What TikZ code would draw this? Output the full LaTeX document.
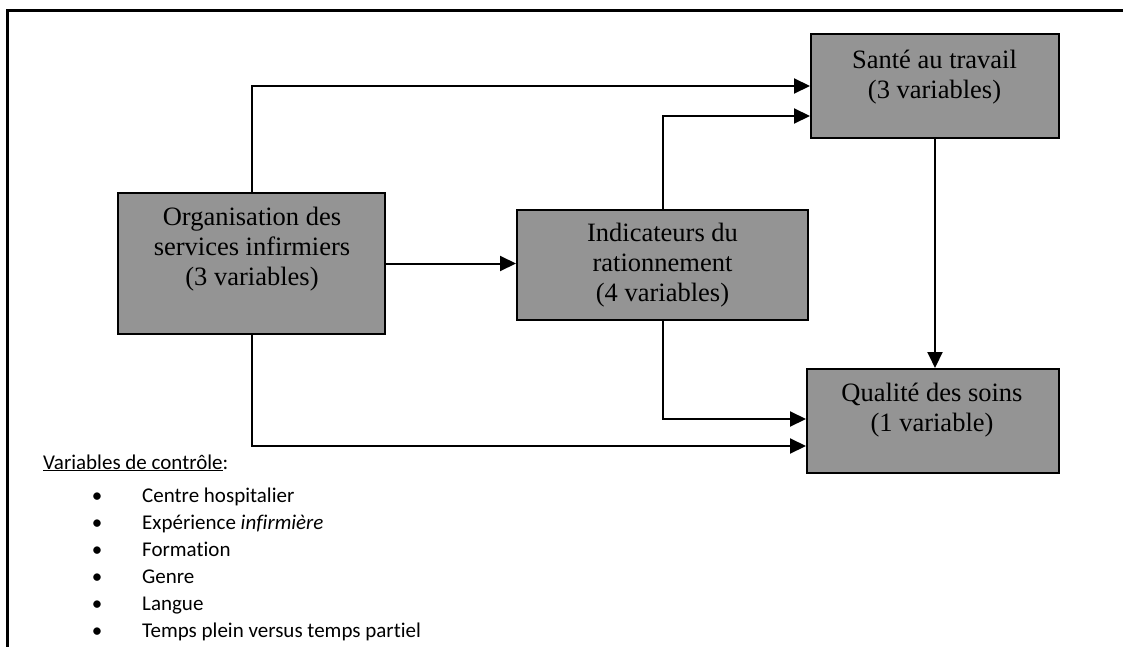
\documentclass[tikz,border=0pt]{standalone}
\usepackage{fontspec}
\setmainfont{Liberation Serif}
\newfontfamily\calibrifont[Ligatures=NoCommon]{Carlito}
\usetikzlibrary{arrows.meta,calc}
\tikzset{
  boxnode/.style={draw=black, line width=2pt, fill=black!42, inner sep=0pt, anchor=center},
  boxtext/.style={align=center, inner sep=0pt, font=\fontsize{26.5}{30}\selectfont},
  arr/.style={line width=2pt, -{Triangle[length=16pt,width=15pt]}},
  ctl/.style={inner sep=0pt, font=\calibrifont\fontsize{21}{25}\selectfont},
}
\begin{document}
\begin{tikzpicture}[x=1pt,y=-1pt]
\useasboundingbox (0,0) rectangle (1123,647);
% frame
\draw[line width=3pt] (7,647) -- (7,11) -- (1123,11);
% boxes
\node[boxnode, minimum width=267pt, minimum height=141pt] (org) at (251.5,263.5) {};
\node[boxnode, minimum width=291pt, minimum height=110pt] (ind) at (662.5,265) {};
\node[boxnode, minimum width=248pt, minimum height=104pt] (sante) at (935,86) {};
\node[boxnode, minimum width=252pt, minimum height=104pt] (qual) at (933,421) {};
% texts
\node[boxtext] (orgt) at (252,249) {Organisation des\\services infirmiers\\(3 variables)};
\node[boxtext] (indt) at (662.5,265.5) {Indicateurs du\\rationnement\\(4 variables)};
\node[boxtext] (santet) at (934.5,77) {Santé au travail\\(3 variables)};
\node[boxtext] (qualt) at (932,410) {Qualité des soins\\(1 variable)};
% connectors
\draw[arr] (org.north) |- (sante.west);
\draw[arr] (ind.north) |- ([yshift=-30pt]sante.west);
\draw[arr] (org.east) -- (org.east -| ind.west);
\draw[arr] (ind.south) |- ([yshift=2pt]qual.west);
\draw[arr] (org.south) |- ([yshift=-25pt]qual.west);
\draw[arr] (sante.south) -- (sante.south |- qual.north);
% control variables
\node[ctl, anchor=base west] (ctltitle) at (43,469) {\underline{Variables de contrôle}:};
\foreach \i/\t in {0/Centre hospitalier,1/Expérience \textit{infirmière},2/Formation,3/Genre,4/Langue,5/Temps plein versus temps partiel}{
  \node[ctl, anchor=base] (b\i) at (97,502+27*\i) {•};
  \node[ctl, anchor=base west] (t\i) at (142,502+27*\i) {\t};
}
\end{tikzpicture}
\end{document}
